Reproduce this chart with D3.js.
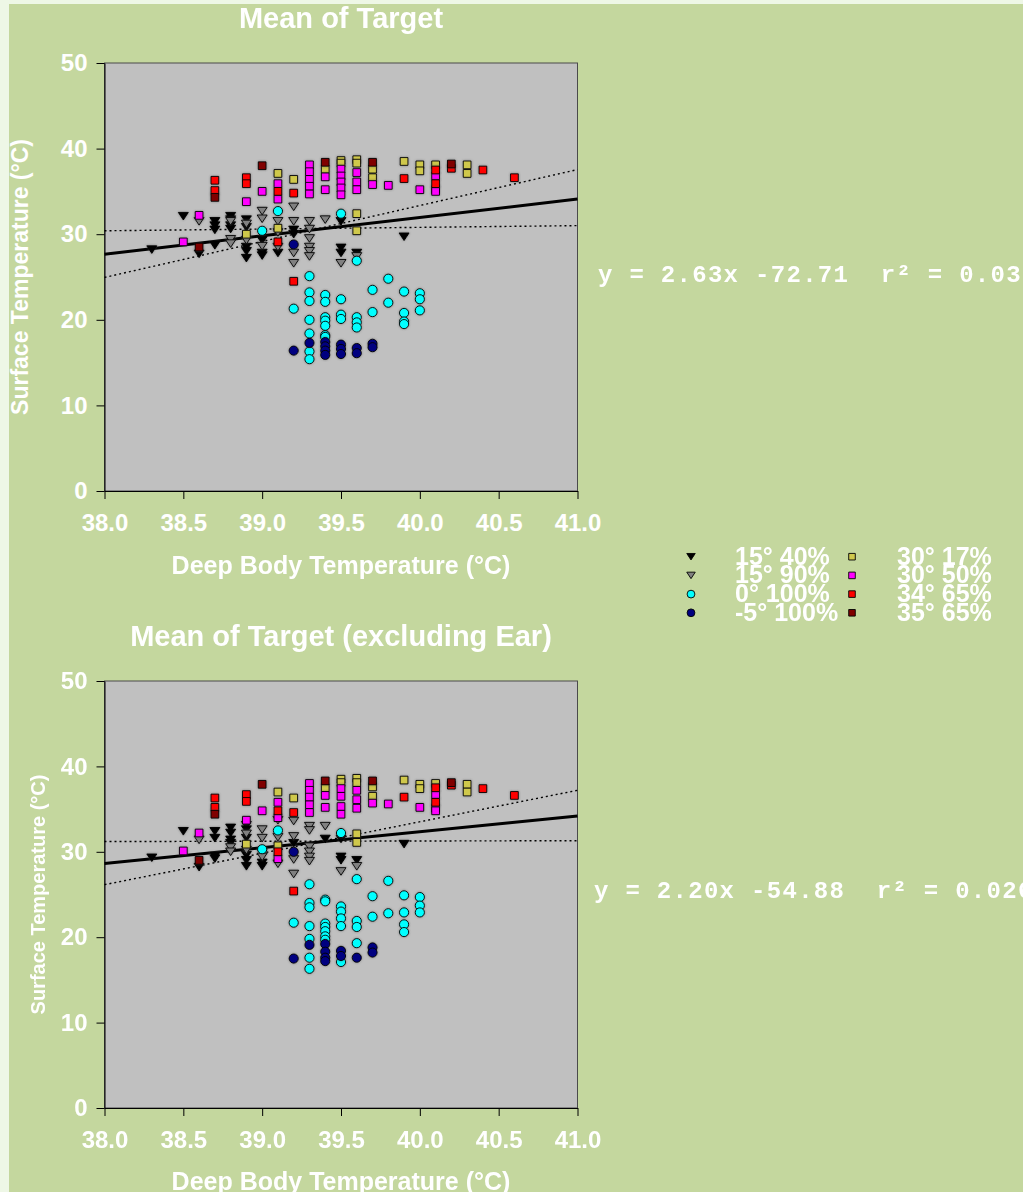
<!DOCTYPE html>
<html><head><meta charset="utf-8">
<script src="https://cdn.jsdelivr.net/npm/d3@7"></script>
<style>body{margin:0;background:#eef7e6;overflow:hidden}svg{display:block}</style>
</head><body>
<svg id="c" width="1023" height="1192"></svg>
<script>
// ---------- data ----------
const xTicks = [38.0, 38.5, 39.0, 39.5, 40.0, 40.5, 41.0];
const yTicks = [0, 10, 20, 30, 40, 50];
const seriesNames  = ["15° 40%", "15° 90%", "0° 100%", "-5° 100%", "30° 17%", "30° 50%", "34° 65%", "35° 65%"];
const seriesShapes = ["tri", "tri", "circle", "circle", "square", "square", "square", "square"];
const seriesColors = ["#000000", "#808080", "#00ffff", "#000080", "#cfc84c", "#ff00ff", "#ff0000", "#800000"];

// Top panel: Mean of Target
const top_15_40 = [[38.3,28.2],[38.5,32.1],[38.6,27.7],[38.7,31.5],[38.7,31.0],[38.7,30.5],[38.7,28.7],[38.8,32.1],[38.8,31.7],[38.8,31.0],[38.8,30.6],[38.9,31.7],[38.9,30.8],[38.9,28.5],[38.9,28.0],[38.9,27.2],[39.0,29.3],[39.0,27.8],[39.0,27.5],[39.1,27.8],[39.2,30.5],[39.2,30.0],[39.5,31.5],[39.5,28.4],[39.5,27.8],[39.6,27.8],[39.9,29.7]];
const top_15_90 = [[38.6,31.5],[38.8,31.5],[38.8,29.4],[38.8,28.9],[38.9,31.2],[38.9,29.3],[39.0,32.7],[39.0,31.8],[39.0,28.6],[39.1,31.5],[39.1,30.2],[39.1,28.5],[39.2,33.2],[39.2,31.5],[39.2,27.8],[39.2,26.6],[39.3,31.5],[39.3,30.6],[39.3,29.5],[39.3,28.5],[39.3,28.0],[39.3,27.4],[39.4,31.7],[39.5,26.6],[39.6,27.4]];
const top_0_100 = [[39.0,30.4],[39.1,32.7],[39.5,32.4],[39.6,26.9],[39.3,25.1],[39.3,23.2],[39.3,22.2],[39.2,21.3],[39.3,20.0],[39.3,18.4],[39.3,16.3],[39.3,15.4],[39.4,22.9],[39.4,22.1],[39.4,20.3],[39.4,19.9],[39.4,19.3],[39.4,18.2],[39.4,18.0],[39.5,22.4],[39.5,20.6],[39.5,20.1],[39.6,20.3],[39.6,19.7],[39.6,19.1],[39.7,23.5],[39.7,20.9],[39.8,24.8],[39.8,22.0],[39.9,23.3],[39.9,20.8],[39.9,19.8],[39.9,19.5],[40.0,23.1],[40.0,22.4],[40.0,21.1]];
const top_m5_100 = [[39.2,28.8],[39.2,16.4],[39.3,17.3],[39.4,17.4],[39.4,16.9],[39.4,16.4],[39.4,15.9],[39.5,17.1],[39.5,16.6],[39.5,16.0],[39.6,16.7],[39.6,16.1],[39.7,17.2],[39.7,16.8]];
const top_30_17 = [[38.9,30.0],[39.1,37.1],[39.1,30.7],[39.2,36.4],[39.4,37.6],[39.5,38.6],[39.5,38.3],[39.6,38.7],[39.6,38.3],[39.6,32.4],[39.6,30.4],[39.7,37.6],[39.7,36.6],[39.9,38.5],[40.0,38.1],[40.0,37.4],[40.1,38.1],[40.3,38.1],[40.3,37.1]];
const top_30_50 = [[38.5,29.1],[38.6,32.2],[38.9,33.8],[39.0,35.0],[39.1,35.9],[39.1,34.1],[39.3,38.1],[39.3,37.3],[39.3,36.4],[39.3,35.6],[39.3,34.7],[39.4,36.7],[39.4,35.2],[39.5,37.6],[39.5,36.8],[39.5,36.1],[39.5,35.4],[39.5,34.6],[39.6,37.2],[39.6,36.1],[39.6,35.2],[39.7,35.8],[39.8,35.7],[40.0,35.2],[40.1,36.8],[40.1,35.2],[40.1,35.0]];
const top_34_65 = [[38.7,36.3],[38.7,35.1],[38.9,36.6],[38.9,35.9],[39.1,35.0],[39.1,29.1],[39.2,34.8],[39.2,24.5],[39.9,36.5],[40.1,37.5],[40.1,35.9],[40.2,37.7],[40.4,37.5],[40.6,36.6]];
const top_35_65 = [[38.6,28.5],[38.7,34.3],[39.0,38.0],[39.4,38.4],[39.7,38.4],[40.2,38.2]];
const top_fit   = [[38.0,27.67],[41.0,34.1]];
const top_bandA = [[38.0,30.4],[41.0,31.0]];
const top_bandB = [[38.0,24.95],[41.0,37.55]];

// Bottom panel: Mean of Target (excluding Ear)
const bot_15_40 = [[38.3,29.3],[38.5,32.4],[38.6,28.2],[38.7,32.4],[38.7,31.6],[38.7,29.5],[38.7,29.2],[38.8,32.8],[38.8,32.2],[38.8,31.4],[38.8,31.0],[38.9,33.1],[38.9,32.6],[38.9,31.6],[38.9,29.6],[38.9,29.0],[38.9,28.3],[39.0,29.9],[39.0,28.7],[39.0,28.3],[39.2,31.0],[39.4,31.5],[39.5,31.5],[39.5,29.4],[39.5,29.0],[39.6,29.0],[39.9,30.9]];
const bot_15_90 = [[38.6,31.4],[38.8,30.5],[38.8,30.0],[38.9,32.1],[38.9,30.2],[39.0,32.6],[39.0,31.6],[39.0,29.4],[39.1,33.7],[39.1,31.7],[39.1,28.6],[39.2,33.6],[39.2,31.8],[39.2,29.1],[39.2,27.4],[39.3,33.0],[39.3,32.5],[39.3,30.6],[39.3,30.0],[39.3,29.4],[39.3,28.9],[39.4,33.0],[39.5,27.7],[39.6,28.3]];
const bot_0_100 = [[39.0,30.3],[39.1,32.5],[39.5,32.2],[39.6,26.8],[39.3,26.2],[39.3,24.0],[39.3,23.5],[39.2,21.7],[39.3,21.3],[39.3,19.8],[39.3,17.6],[39.3,16.3],[39.4,24.4],[39.4,24.2],[39.4,21.6],[39.4,21.2],[39.4,20.7],[39.4,20.1],[39.4,19.7],[39.5,23.6],[39.5,23.0],[39.5,22.2],[39.5,21.3],[39.5,17.1],[39.6,21.9],[39.6,21.2],[39.6,19.3],[39.7,24.8],[39.7,22.4],[39.8,26.6],[39.8,22.8],[39.9,24.9],[39.9,22.9],[39.9,21.5],[39.9,20.6],[40.0,24.7],[40.0,23.7],[40.0,22.9]];
const bot_m5_100 = [[39.2,30.0],[39.2,17.5],[39.3,19.1],[39.4,19.2],[39.4,18.3],[39.4,17.6],[39.4,17.2],[39.5,18.4],[39.5,17.8],[39.6,17.6],[39.7,18.8],[39.7,18.2]];
const bot_30_17 = [[38.9,30.9],[39.1,37.0],[39.1,30.7],[39.2,36.3],[39.4,37.5],[39.5,38.5],[39.5,38.1],[39.6,38.6],[39.6,38.1],[39.6,32.1],[39.6,31.1],[39.7,37.6],[39.7,36.5],[39.9,38.4],[40.0,37.9],[40.0,37.4],[40.1,38.0],[40.3,37.9],[40.3,37.0]];
const bot_30_50 = [[38.5,30.1],[38.6,32.2],[38.9,33.7],[39.0,34.8],[39.1,35.8],[39.1,34.0],[39.1,29.2],[39.3,38.0],[39.3,37.2],[39.3,36.4],[39.3,35.5],[39.3,34.6],[39.4,36.6],[39.4,35.2],[39.5,37.4],[39.5,36.5],[39.5,35.3],[39.5,34.4],[39.6,37.2],[39.6,36.1],[39.6,35.1],[39.7,35.7],[39.8,35.6],[40.0,35.2],[40.1,36.7],[40.1,35.1],[40.1,34.8]];
const bot_34_65 = [[38.7,36.3],[38.7,35.2],[38.9,36.7],[38.9,35.9],[39.1,34.8],[39.1,30.0],[39.2,34.6],[39.2,25.4],[39.9,36.4],[40.1,37.5],[40.1,35.8],[40.2,37.8],[40.4,37.4],[40.6,36.6]];
const bot_35_65 = [[38.6,29.0],[38.7,34.4],[39.0,37.9],[39.4,38.3],[39.7,38.3],[40.2,38.1]];
const bot_fit   = [[38.0,28.63],[41.0,34.2]];
const bot_bandA = [[38.0,31.2],[41.0,31.3]];
const bot_bandB = [[38.0,26.15],[41.0,37.2]];

const titles = ["Mean of Target", "Mean of Target (excluding Ear)"];
const equations = ["y = 2.63x -72.71  r\u00b2 = 0.031", "y = 2.20x -54.88  r\u00b2 = 0.026"];
const xLabel = "Deep Body Temperature (\u00b0C)";
const yLabel = "Surface Temperature (\u00b0C)";

// ---------- drawing ----------
const W = 1023, H = 1192;
const FONT = "'Liberation Sans', Arial, Helvetica, sans-serif";
const svg = d3.select("#c");
const defs = svg.append("defs");
const f = defs.append("filter").attr("id","sh").attr("x","-50%").attr("y","-50%").attr("width","200%").attr("height","200%");
f.append("feDropShadow").attr("dx",0).attr("dy",0).attr("stdDeviation",0.9).attr("flood-color","#404040").attr("flood-opacity",0.55);

svg.append("rect").attr("x",9).attr("y",4).attr("width",W-9).attr("height",H-4).attr("fill","#c4d79e");

function markerPath(type, k) {
  if (type === "tri") {
    const w = 5*k, h = 3.8*k;
    return `M${-w},${-h}L${w},${-h}L0,${h}Z`;
  }
  if (type === "square") return d3.symbol(d3.symbolSquare, 60*k*k)();
  return d3.symbol(d3.symbolCircle, 66*k*k)();
}

function panel(o) {
  const x = d3.scaleLinear().domain([38, 41]).range([104.5, 577.5]);
  const y = d3.scaleLinear().domain([0, 50]).range([o.bottom, o.top]);
  const g = svg.append("g");
  g.append("rect").attr("x", x(38)).attr("y", y(50)).attr("width", x(41)-x(38)).attr("height", y(0)-y(50))
    .attr("fill", "#c0c0c0").attr("stroke", "#4a4a4a").attr("stroke-width", 1);

  const line = d3.line().x(d => x(d[0])).y(d => y(d[1]));
  [o.bandA, o.bandB].forEach(b => g.append("path").attr("d", line(b)).attr("fill","none")
    .attr("stroke","#000").attr("stroke-width",1.4).attr("stroke-dasharray","2,3"));
  g.append("path").attr("d", line(o.fit)).attr("fill","none").attr("stroke","#000").attr("stroke-width",3);

  o.series.forEach((s, i) => {
    g.append("g").attr("filter","url(#sh)").selectAll("path").data(s).join("path")
      .attr("transform", d => `translate(${x(d[0])},${y(d[1])})`)
      .attr("d", markerPath(seriesShapes[i], 1))
      .attr("fill", seriesColors[i]).attr("stroke", "#000").attr("stroke-width", 0.9);
  });

  const ax = g.append("g").attr("transform", `translate(0,${y(0)})`)
    .call(d3.axisBottom(x).tickValues(xTicks).tickFormat(d3.format(".1f")).tickSize(8).tickSizeOuter(0).tickPadding(15));
  const ay = g.append("g").attr("transform", `translate(${x(38)},0)`)
    .call(d3.axisLeft(y).tickValues(yTicks).tickSize(8).tickSizeOuter(0).tickPadding(9));
  [ax, ay].forEach(a => {
    a.select(".domain").attr("stroke", "#000");
    a.selectAll(".tick line").attr("stroke", "#000");
    a.selectAll(".tick text").attr("fill", "#fff").style("font-family", FONT).style("font-weight", "bold").style("font-size", "24px");
  });

  const txt = (t, xx, yy, size, anchor) => g.append("text").attr("x", xx).attr("y", yy).text(t)
    .attr("fill", "#fff").attr("text-anchor", anchor || "middle")
    .style("font-family", FONT).style("font-weight", "bold").style("font-size", size + "px");
  txt(o.title, 341, o.titleY, 29);
  txt(xLabel, 341, o.xLabelY, 25);
  g.append("text").attr("transform", `translate(${o.yLabelX},${(y(0)+y(50))/2}) rotate(-90)`)
    .attr("text-anchor","middle").attr("dy","0.35em").text(yLabel).attr("fill","#fff")
    .style("font-family", FONT).style("font-weight","bold").style("font-size", o.yLabelSize + "px");
  g.append("text").attr("x", o.eqX).attr("y", o.eqY).text(o.eq).attr("fill", "#fff")
    .style("font-family", "'Liberation Mono','Courier New',monospace").style("font-weight","bold")
    .style("font-size","24px").style("letter-spacing","1.3px").attr("xml:space","preserve").style("white-space","pre");
}

panel({ top: 63, bottom: 491, title: titles[0], titleY: 28, xLabelY: 574, yLabelX: 20, yLabelSize: 23,
  eq: equations[0], eqX: 598, eqY: 282, fit: top_fit, bandA: top_bandA, bandB: top_bandB,
  series: [top_15_40, top_15_90, top_0_100, top_m5_100, top_30_17, top_30_50, top_34_65, top_35_65] });
panel({ top: 681, bottom: 1108, title: titles[1], titleY: 646, xLabelY: 1190, yLabelX: 38, yLabelSize: 20,
  eq: equations[1], eqX: 594, eqY: 898, fit: bot_fit, bandA: bot_bandA, bandB: bot_bandB,
  series: [bot_15_40, bot_15_90, bot_0_100, bot_m5_100, bot_30_17, bot_30_50, bot_34_65, bot_35_65] });

// legend
const lg = svg.append("g");
seriesNames.forEach((n, i) => {
  const col = Math.floor(i / 4), row = i % 4;
  const mx = col ? 852 : 691, tx = col ? 897 : 735, cy = 556.7 + row * 18.7;
  lg.append("path").attr("transform", `translate(${mx},${cy})`).attr("d", markerPath(seriesShapes[i], 0.85))
    .attr("fill", seriesColors[i]).attr("stroke", "#000").attr("stroke-width", 0.9);
  lg.append("text").attr("x", tx).attr("y", cy + 8).text(n).attr("fill", "#fff")
    .style("font-family", FONT).style("font-weight", "bold").style("font-size", "25px");
});
</script>
</body></html>
